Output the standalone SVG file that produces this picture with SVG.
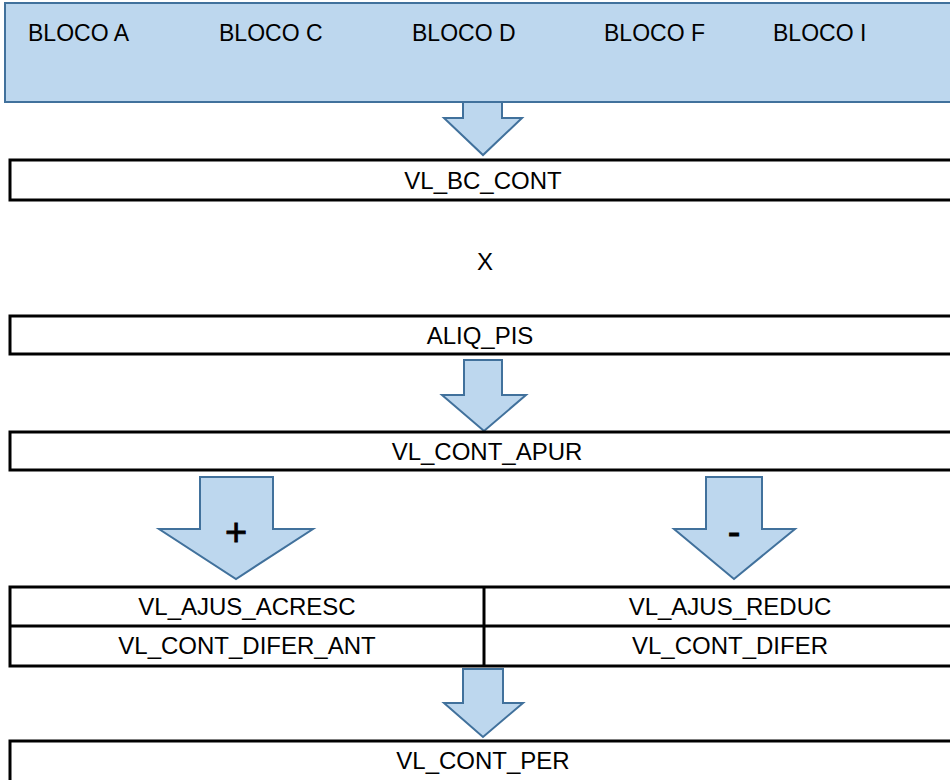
<svg xmlns="http://www.w3.org/2000/svg" width="950" height="780" viewBox="0 0 950 780">
<style>
.box{fill:#ffffff;stroke:#000000;stroke-width:3}
.blue{fill:#BDD7EE;stroke:#41719C;stroke-width:2}
.t{font-family:"Liberation Sans",Arial,sans-serif;font-size:24px;fill:#000;text-anchor:middle}
.tl{font-family:"Liberation Sans",Arial,sans-serif;font-size:23px;fill:#000}
.sym{font-family:"Liberation Sans",Arial,sans-serif;font-size:38px;fill:#000;text-anchor:middle}
</style>
<rect width="950" height="780" fill="#ffffff"/>
<g id="blocos">
<rect class="blue" x="5" y="3" width="955" height="99"/>
<text class="tl" x="28" y="41">BLOCO A</text>
<text class="tl" x="219" y="41">BLOCO C</text>
<text class="tl" x="412" y="41">BLOCO D</text>
<text class="tl" x="604" y="41">BLOCO F</text>
<text class="tl" x="773" y="41">BLOCO I</text>
</g>
<g id="connectors">
<polygon class="blue" points="463,102 502,102 502,118 522,118 483,155 444,118 463,118"/>
<polygon class="blue" points="464,360 502,360 502,395 526,395 484,431 442,395 464,395"/>
<polygon class="blue" points="200,477 273,477 273,529 313,529 236,579 159,529 200,529"/>
<polygon class="blue" points="706,477 762,477 762,529 795,529 734,579 674,529 706,529"/>
<polygon class="blue" points="463,669 503,669 503,703 523,703 483,737 444,703 463,703"/>
<text class="sym" x="236" y="545" stroke="#000" stroke-width="0.8">+</text>
<text class="sym" x="734" y="545" stroke="#000" stroke-width="0.8">-</text>
</g>
<g id="vl_bc_cont">
<rect class="box" x="10" y="160" width="950" height="40"/>
<text class="t" x="483" y="189">VL_BC_CONT</text>
</g>
<g id="x">
<text class="t" x="485" y="270">X</text>
</g>
<g id="aliq_pis">
<rect class="box" x="10" y="316" width="950" height="38"/>
<text class="t" x="480" y="344">ALIQ_PIS</text>
</g>
<g id="vl_cont_apur">
<rect class="box" x="10" y="432" width="950" height="38"/>
<text class="t" x="487" y="460">VL_CONT_APUR</text>
</g>
<g id="ajustes">
<rect class="box" x="10" y="587" width="950" height="79"/>
<line x1="10" y1="626" x2="960" y2="626" stroke="#000" stroke-width="3"/>
<line x1="484" y1="587" x2="484" y2="666" stroke="#000" stroke-width="3"/>
<text class="t" x="247" y="615">VL_AJUS_ACRESC</text>
<text class="t" x="730" y="615">VL_AJUS_REDUC</text>
<text class="t" x="247" y="654">VL_CONT_DIFER_ANT</text>
<text class="t" x="730" y="654">VL_CONT_DIFER</text>
</g>
<g id="vl_cont_per">
<rect class="box" x="10" y="741" width="950" height="50"/>
<text class="t" x="483" y="769">VL_CONT_PER</text>
</g>
</svg>
